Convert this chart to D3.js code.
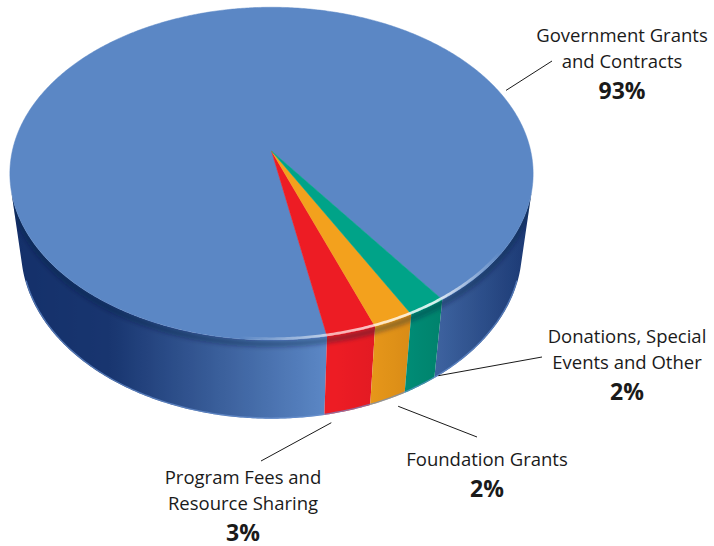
<!DOCTYPE html>
<html>
<head>
<meta charset="utf-8" />
<title>Revenue sources - 3D pie</title>
<style>
html, body {
    margin: 0px;
    padding: 0px;
    background: #fff;
}
svg { display: block; }
text {
    font-family: "Open Sans", sans-serif;
    fill: #1a1a1a;
}
</style>
</head>
<body>
<svg id="chart" width="714" height="546"></svg>

<script src="https://d3js.org/d3.v7.min.js"></script>
<script>
// values
var categories = ["Government Grants and Contracts", "Program Fees and Resource Sharing", "Foundation Grants", "Donations, Special Events and Other"]
var values = [93.0, 2.7, 2.2, 2.1]
var percentLabels = ["93%", "3%", "2%", "2%"]
var labelLines = [["Government Grants", "and Contracts"], ["Program Fees and", "Resource Sharing"], ["Foundation Grants"], ["Donations, Special", "Events and Other"]]
var topColors = ["#5b87c5", "#ed1c24", "#f3a11d", "#00a388"]
var sideDark = ["#14306a", "#b0121c", "#a05e08", "#00584a"]

var width = 714, height = 546
var deg = Math.PI / 180

// simple perspective camera looking down on the disc
var cam = {cx: 271.5, cy: 151, s: 1480, D: 5.71, tilt: 39.05 * deg, T: 0.396}
var sinT = Math.sin(cam.tilt), cosT = Math.cos(cam.tilt)
var theta0 = 414.1 * deg

// label layout: text centre / first baseline, leader end offset, leader start on the pie
var labelLayout = [
    {x: 622, y: 42, dx: -70, dy: 19, theta: -22.3, h: 0, r: 1.03},
    {x: 243, y: 484, dx: 18, dy: -23, theta: 77.8, h: -1.12, r: 1},
    {x: 487, y: 466, dx: -10, dy: -29, theta: 63, h: -1.15, r: 1},
    {x: 627, y: 343, dx: -85, dy: 14, theta: 53, h: -1.0, r: 1}
]

function project(theta, h, r) {
    if (r == null) r = 1
    var x = r * Math.cos(theta), w = r * Math.sin(theta), hh = h * cam.T
    var z = cam.D - (w * cosT + hh * sinT)
    return {x: cam.cx + cam.s * x / z, y: cam.cy + cam.s * (w * sinT - hh * cosT) / z, z: z}
}

function sample(t1, t2, step) {
    var n = Math.max(1, Math.ceil(Math.abs(t2 - t1) / step))
    return d3.range(n + 1).map(function(i) { return t1 + (t2 - t1) * i / n })
}

var line = d3.line().x(function(d) { return d.x }).y(function(d) { return d.y })

var svg = d3.select("#chart")
var defs = svg.append("defs")

var arcs = d3.pie().sort(null).value(function(d) { return d })(values)
arcs.forEach(function(a) {
    // screen angle runs clockwise, pie angle the other way
    a.lo = theta0 - a.endAngle
    a.hi = theta0 - a.startAngle
})

// the part of the wall facing the camera
var sMin = Math.asin(1 / (cam.D * cosT)), sMax = Math.PI - sMin

function frontPieces(lo, hi) {
    var out = []
    for (var k = -1; k <= 2; k++) {
        var a = Math.max(lo, sMin + k * 2 * Math.PI), b = Math.min(hi, sMax + k * 2 * Math.PI)
        if (b > a) out.push([a, b])
    }
    return out
}

// brightness of the side wall by screen x
var shade = d3.scaleLinear()
    .domain([10, 110, 325, 335, 443, 534])
    .range([0, 0.06, 1, 1, 0.55, 0.08])
    .clamp(true)

var sides = []
arcs.forEach(function(a, i) {
    var g = defs.append("linearGradient").attr("id", "side" + i)
        .attr("gradientUnits", "userSpaceOnUse")
        .attr("x1", 0).attr("x2", width).attr("y1", 0).attr("y2", 0)
    d3.range(0, width + 1, 6).forEach(function(x) {
        g.append("stop").attr("offset", x / width)
            .attr("stop-color", d3.interpolateRgb(sideDark[i], topColors[i])(shade(x)))
    })
    frontPieces(a.lo, a.hi).forEach(function(p) {
        var ts = sample(p[0], p[1], 0.5 * deg)
        var pts = ts.map(function(t) { return project(t, 0) })
            .concat(ts.slice().reverse().map(function(t) { return project(t, -1) }))
        sides.push({d: line(pts) + "Z", i: i})
    })
})

defs.append("clipPath").attr("id", "sideClip")
    .selectAll("path").data(sides).join("path")
    .attr("d", function(d) { return d.d })

svg.append("g").attr("class", "side")
    .selectAll("path").data(sides).join("path")
    .attr("d", function(d) { return d.d })
    .attr("fill", function(d) { return "url(#side" + d.i + ")" })

// soft shadow under the rim of the top face
defs.append("filter").attr("id", "blur")
    .attr("x", "-10%").attr("y", "-10%").attr("width", "120%").attr("height", "120%")
    .append("feGaussianBlur").attr("stdDeviation", 2.2)

svg.append("g").attr("clip-path", "url(#sideClip)")
    .append("path")
    .attr("d", line(sample(-15 * deg, 195 * deg, 1 * deg).map(function(t) { return project(t, -0.05) })))
    .attr("fill", "none")
    .attr("stroke", "#0a1838")
    .attr("stroke-opacity", 0.35)
    .attr("stroke-width", 6)
    .attr("filter", "url(#blur)")

// light rim along the bottom edge
svg.append("path")
    .attr("d", line(sample(18 * deg, 162 * deg, 1 * deg).map(function(t) { return project(t, -1, 0.997) })))
    .attr("fill", "none")
    .attr("stroke", "#6a92d0")
    .attr("stroke-opacity", 0.7)
    .attr("stroke-width", 1.3)

// top face
var centre = project(0, 0, 0)
svg.append("g").attr("class", "top")
    .selectAll("path").data(arcs).join("path")
    .attr("d", function(a) {
        var pts = [centre].concat(sample(a.lo, a.hi, 0.5 * deg).map(function(t) { return project(t, 0) }))
        return line(pts) + "Z"
    })
    .attr("fill", function(a, i) { return topColors[i] })
    .attr("stroke", function(a, i) { return topColors[i] })
    .attr("stroke-width", 0.5)

// glossy highlight on the front edge
var hl = defs.append("linearGradient").attr("id", "hl")
    .attr("gradientUnits", "userSpaceOnUse")
    .attr("x1", 240).attr("x2", 500).attr("y1", 0).attr("y2", 0)
hl.append("stop").attr("offset", 0).attr("stop-color", "#fff").attr("stop-opacity", 0)
hl.append("stop").attr("offset", 0.35).attr("stop-color", "#fff").attr("stop-opacity", 0.65)
hl.append("stop").attr("offset", 0.75).attr("stop-color", "#fff").attr("stop-opacity", 0.85)
hl.append("stop").attr("offset", 1).attr("stop-color", "#fff").attr("stop-opacity", 0)

svg.append("path")
    .attr("d", line(sample(25 * deg, 112 * deg, 0.5 * deg).map(function(t) { return project(t, 0, 0.994) })))
    .attr("fill", "none")
    .attr("stroke", "url(#hl)")
    .attr("stroke-width", 2.6)
    .attr("stroke-linecap", "round")

// leader lines
svg.append("g").attr("class", "leaders")
    .selectAll("line").data(labelLayout).join("line")
    .attr("x1", function(d) { return project(d.theta * deg, d.h, d.r).x })
    .attr("y1", function(d) { return project(d.theta * deg, d.h, d.r).y })
    .attr("x2", function(d) { return d.x + d.dx })
    .attr("y2", function(d) { return d.y + d.dy })
    .attr("stroke", "#1a1a1a")
    .attr("stroke-width", 1)

// labels
var labels = svg.append("g").attr("class", "labels")
    .selectAll("g").data(categories).join("g")

labels.each(function(c, i) {
    var g = d3.select(this)
    var lay = labelLayout[i]
    labelLines[i].forEach(function(txt, j) {
        g.append("text")
            .attr("x", lay.x)
            .attr("y", lay.y + j * 25.5)
            .attr("text-anchor", "middle")
            .attr("font-size", 18.5)
            .text(txt)
    })
    g.append("text")
        .attr("x", lay.x)
        .attr("y", lay.y + (labelLines[i].length - 1) * 25.5 + 31)
        .attr("text-anchor", "middle")
        .attr("font-size", 23)
        .attr("font-weight", "bold")
        .text(percentLabels[i])
})
</script>
</body>
</html>
